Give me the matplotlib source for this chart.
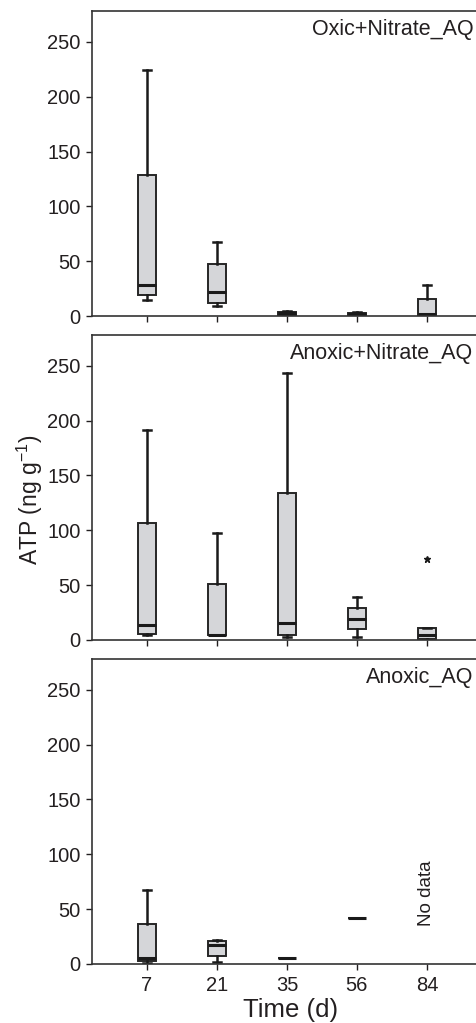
import matplotlib.pyplot as plt

plt.rcParams['font.family'] = ['Liberation Sans', 'DejaVu Sans']
plt.rcParams['mathtext.default'] = 'regular'

days = ['7', '21', '35', '56', '84']
titles = ['Oxic+Nitrate_AQ', 'Anoxic+Nitrate_AQ', 'Anoxic_AQ']

# Oxic + Nitrate
oxic_lo = [14.6, 9.0, 0.5, 0.5, 0.0]
oxic_q1 = [19.0, 12.0, 1.0, 1.0, 0.5]
oxic_med = [28.0, 21.6, 2.5, 2.0, 1.8]
oxic_q3 = [129.0, 47.7, 3.5, 3.0, 15.5]
oxic_hi = [224.5, 67.5, 4.8, 3.5, 28.0]
oxic_out = [[], [], [], [], []]

# Anoxic + Nitrate
anoxn_lo = [4.5, 4.5, 3.0, 2.7, 0.3]
anoxn_q1 = [5.2, 4.8, 4.6, 10.3, 0.5]
anoxn_med = [13.4, 5.0, 15.2, 18.9, 4.6]
anoxn_q3 = [106.4, 51.0, 133.8, 29.5, 10.6]
anoxn_hi = [191.6, 97.6, 243.6, 39.2, 10.6]
anoxn_out = [[], [], [], [], [73.6]]

# Anoxic (no data at 84 d)
anox_lo = [1.0, 2.0, 5.5, 42.0]
anox_q1 = [2.7, 7.6, 5.5, 42.0]
anox_med = [5.2, 17.0, 5.5, 42.0]
anox_q3 = [36.5, 21.0, 5.5, 42.0]
anox_hi = [67.8, 22.2, 5.5, 42.0]
anox_out = [[], [], [], []]

panels = [
    (oxic_lo, oxic_q1, oxic_med, oxic_q3, oxic_hi, oxic_out),
    (anoxn_lo, anoxn_q1, anoxn_med, anoxn_q3, anoxn_hi, anoxn_out),
    (anox_lo, anox_q1, anox_med, anox_q3, anox_hi, anox_out),
]

ink = '#231f20'
fig = plt.figure(figsize=(4.76, 10.23), dpi=100)

bottoms = [0.691, 0.3744, 0.0577]
for i, (lo, q1, med, q3, hi, out) in enumerate(panels):
    ax = fig.add_axes([0.193, bottoms[i], 0.851, 0.298])
    stats = []
    for j in range(len(lo)):
        stats.append(dict(whislo=lo[j], q1=q1[j], med=med[j], q3=q3[j],
                          whishi=hi[j], fliers=out[j]))
    ax.bxp(stats, positions=list(range(len(lo))), widths=0.26, capwidths=0.12,
           patch_artist=True, showfliers=True,
           boxprops=dict(facecolor='#d5d6d9', edgecolor='#262626', linewidth=1.4),
           medianprops=dict(color='#1a1a1a', linewidth=2.2),
           whiskerprops=dict(color='#1a1a1a', linewidth=1.8),
           capprops=dict(color='#1a1a1a', linewidth=1.8),
           flierprops=dict(marker='*', markersize=5, markerfacecolor='#1a1a1a',
                           markeredgecolor='#1a1a1a', linestyle='none'))
    ax.set_xlim(-0.786, 5.0)
    ax.set_ylim(0, 278)
    ax.set_yticks([0, 50, 100, 150, 200, 250])
    ax.set_xticks(range(len(days)))
    if i == 2:
        ax.set_xticklabels(days)
        ax.text(4, 65, 'No data', rotation=90, ha='center', va='center',
                fontsize=13.5, color=ink)
    else:
        ax.set_xticklabels([])
    ax.tick_params(direction='out', length=4, width=1, labelsize=14.5,
                   colors=ink, pad=4)
    ax.tick_params(axis='x', pad=5)
    for s in ax.spines.values():
        s.set_linewidth(1.2)
        s.set_color('#333333')
    ax.text(4.66, 271, titles[i], ha='right', va='top', fontsize=15.5, color=ink)

fig.text(30 / 476, 1 - 500 / 1023, 'ATP (ng g$^{-1}$)', rotation=90,
         ha='center', va='center', fontsize=16.5, color=ink)
fig.text(291 / 476, 1 - 1010 / 1023, 'Time (d)', ha='center', va='center',
         fontsize=18.5, color=ink)

fig.savefig('out.png', dpi=100)
